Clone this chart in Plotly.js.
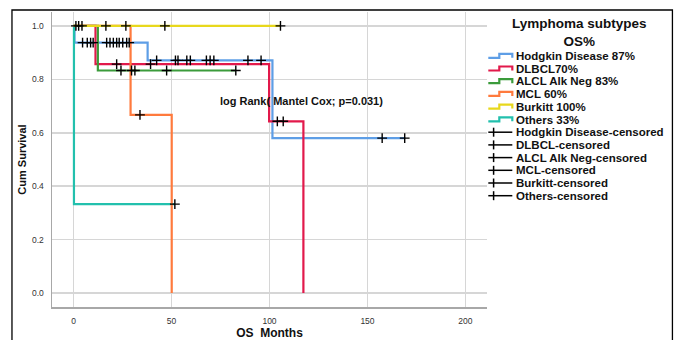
<!DOCTYPE html>
<html><head><meta charset="utf-8">
<script src="https://cdn.plot.ly/plotly-3.0.1.min.js"></script>
<style>html,body{margin:0;padding:0;background:#fff;}#chart{width:681px;height:340px;}</style>
</head><body><div id="chart"></div>
<script>
// ---- data ----
const groupNames = ["Hodgkin Disease 87%", "DLBCL70%", "ALCL Alk Neg 83%", "MCL 60%", "Burkitt 100%", "Others 33%"];
const censorNames = ["Hodgkin Disease-censored", "DLBCL-censored", "ALCL Alk Neg-censored", "MCL-censored", "Burkitt-censored", "Others-censored"];
const legendTitleLines = ["Lymphoma subtypes", "OS%"];
const testText = "log Rank( Mantel Cox; p=0.031)";

const hodgkinTime = [0, 0.5, 37.8, 101.5, 169.3];
const hodgkinSurv = [1, 0.9375, 0.871, 0.58, 0.58];
const dlbclTime = [0, 11.2, 99.8, 117.3];
const dlbclSurv = [1, 0.857, 0.643, 0];
const alclTime = [0, 12.4, 82.8];
const alclSurv = [1, 0.833, 0.833];
const mclTime = [0, 29.1, 50.1];
const mclSurv = [1, 0.667, 0];
const burkittTime = [0, 105.6];
const burkittSurv = [1, 1];
const othersTime = [0, 0.2, 51.7];
const othersSurv = [1, 0.333, 0.333];

const hodgkinCensored = [4.6, 7, 8.7, 10, 16.9, 18.6, 20.3, 22, 23.3, 25.1, 27.1, 28.4, 42.4, 52, 53.3, 57.8, 59.6, 67.8, 69.7, 71.6, 89, 95.7, 157.5, 169];
const dlbclCensored = [22, 39.3, 104, 107];
const alclCensored = [24.2, 29.6, 31.3, 47.5, 82.8];
const mclCensored = [33.9];
const burkittCensored = [1.2, 2.6, 4.3, 16.5, 26.7, 46.6, 105.6];
const othersCensored = [51.7];

const xTicks = [0, 50, 100, 150, 200];
const yTicks = [0, 0.2, 0.4, 0.6, 0.8, 1.0];

// ---- styles ----
const colors = ["#5e9ee6", "#e2194b", "#3b9b3b", "#ff7a3d", "#e8d81c", "#22c0ad"];
const curves = [
  [hodgkinTime, hodgkinSurv, hodgkinCensored],
  [dlbclTime, dlbclSurv, dlbclCensored],
  [alclTime, alclSurv, alclCensored],
  [mclTime, mclSurv, mclCensored],
  [burkittTime, burkittSurv, burkittCensored],
  [othersTime, othersSurv, othersCensored]
];
const drawOrder = [0, 1, 2, 5, 3, 4];

function survAt(times, surv, t) {
  let v = surv[0];
  for (let i = 0; i < times.length; i++) { if (times[i] <= t) v = surv[i]; }
  return v;
}

const traces = [];
drawOrder.forEach(g => {
  const [t, s] = curves[g];
  traces.push({
    type: "scatter", mode: "lines", name: groupNames[g], x: t, y: s,
    line: {shape: "hv", color: colors[g], width: 2.2}, showlegend: false, hoverinfo: "skip"
  });
});
curves.forEach((c, g) => {
  const [t, s, cens] = c;
  traces.push({
    type: "scatter", mode: "markers", name: censorNames[g],
    x: cens, y: cens.map(v => survAt(t, s, v)),
    marker: {symbol: "cross-thin", size: 7, line: {color: "#000", width: 1.4}, color: "#000"},
    showlegend: false, hoverinfo: "skip"
  });
});

// ---- layout in pixels ----
const W = 681, H = 340, PL = 52, PR = 486.7, PT = 12, PB = 307;
const px = x => (x - PL) / (PR - PL);
const py = y => (PB - y) / (PB - PT);

const shapes = [{
  type: "rect", xref: "paper", yref: "paper",
  x0: px(12), x1: px(672), y0: py(346), y1: py(10),
  line: {color: "#000", width: 1.3}, layer: "above"
}];
const annotations = [{
  xref: "paper", yref: "paper", x: px(218), y: py(101), xanchor: "left", yanchor: "middle",
  text: testText, showarrow: false, font: {family: "Liberation Sans, Arial", size: 11, color: "#111", weight: "bold"}
}];
annotations.push({
  xref: "paper", yref: "paper", x: px(579), y: py(32), xanchor: "center", yanchor: "middle",
  text: legendTitleLines.join("<br>"), showarrow: false, align: "center",
  font: {family: "Liberation Sans, Arial", size: 13.5, color: "#111", weight: "bold"}
});
const rowY0 = 56, rowStep = 12.7;
const legendNames = groupNames.concat(censorNames);
legendNames.forEach((nm, i) => {
  const cy = rowY0 + i * rowStep;
  annotations.push({
    xref: "paper", yref: "paper", x: px(513.5), y: py(cy), xanchor: "left", yanchor: "middle",
    text: nm, showarrow: false, font: {family: "Liberation Sans, Arial", size: 11.5, color: "#111", weight: "bold"}
  });
  if (i < groupNames.length) {
    shapes.push({
      type: "path", xref: "paper", yref: "paper",
      path: `M ${px(488)} ${py(cy + 1.8)} L ${px(499)} ${py(cy + 1.8)} L ${px(499)} ${py(cy - 2.2)} L ${px(512)} ${py(cy - 2.2)} L ${px(512)} ${py(cy + 1.8)}`,
      line: {color: colors[i], width: 2.2}
    });
  } else {
    shapes.push({type: "line", xref: "paper", yref: "paper", x0: px(488), x1: px(512), y0: py(cy), y1: py(cy), line: {color: "#000", width: 1.5}});
    shapes.push({type: "line", xref: "paper", yref: "paper", x0: px(493.3), x1: px(493.3), y0: py(cy - 4.5), y1: py(cy + 4.5), line: {color: "#000", width: 1.5}});
  }
});

const layout = {
  width: W, height: H,
  margin: {l: PL, r: W - PR, t: PT, b: H - PB, pad: 0},
  paper_bgcolor: "#fff", plot_bgcolor: "#fff",
  showlegend: false,
  xaxis: {
    range: [-11, 211], tickvals: xTicks, ticktext: xTicks.map(String),
    showgrid: true, gridcolor: "#d6d6d6", gridwidth: 1.5, zeroline: false,
    showline: true, linecolor: "#a8a8a8", linewidth: 1.5, ticks: "", ticklabelstandoff: 5,
    tickfont: {family: "Liberation Sans, Arial", size: 8.5, color: "#333"},
    title: {text: "OS\u00a0 Months", standoff: 11, font: {family: "Liberation Sans, Arial", size: 12, color: "#111", weight: "bold"}},
    automargin: false
  },
  yaxis: {
    range: [-0.052, 1.052], tickvals: yTicks, tickformat: ".1f",
    showgrid: true, gridcolor: "#d6d6d6", gridwidth: 1.5, zeroline: false,
    showline: true, linecolor: "#a8a8a8", linewidth: 1.5, ticks: "", ticklabelstandoff: 5,
    tickfont: {family: "Liberation Sans, Arial", size: 8.5, color: "#333"},
    title: {text: "Cum Survival", standoff: 3, font: {family: "Liberation Sans, Arial", size: 11, color: "#111", weight: "bold"}},
    automargin: false
  },
  shapes: shapes,
  annotations: annotations
};

Plotly.newPlot("chart", traces, layout, {displayModeBar: false, staticPlot: true});
</script>
</body></html>
